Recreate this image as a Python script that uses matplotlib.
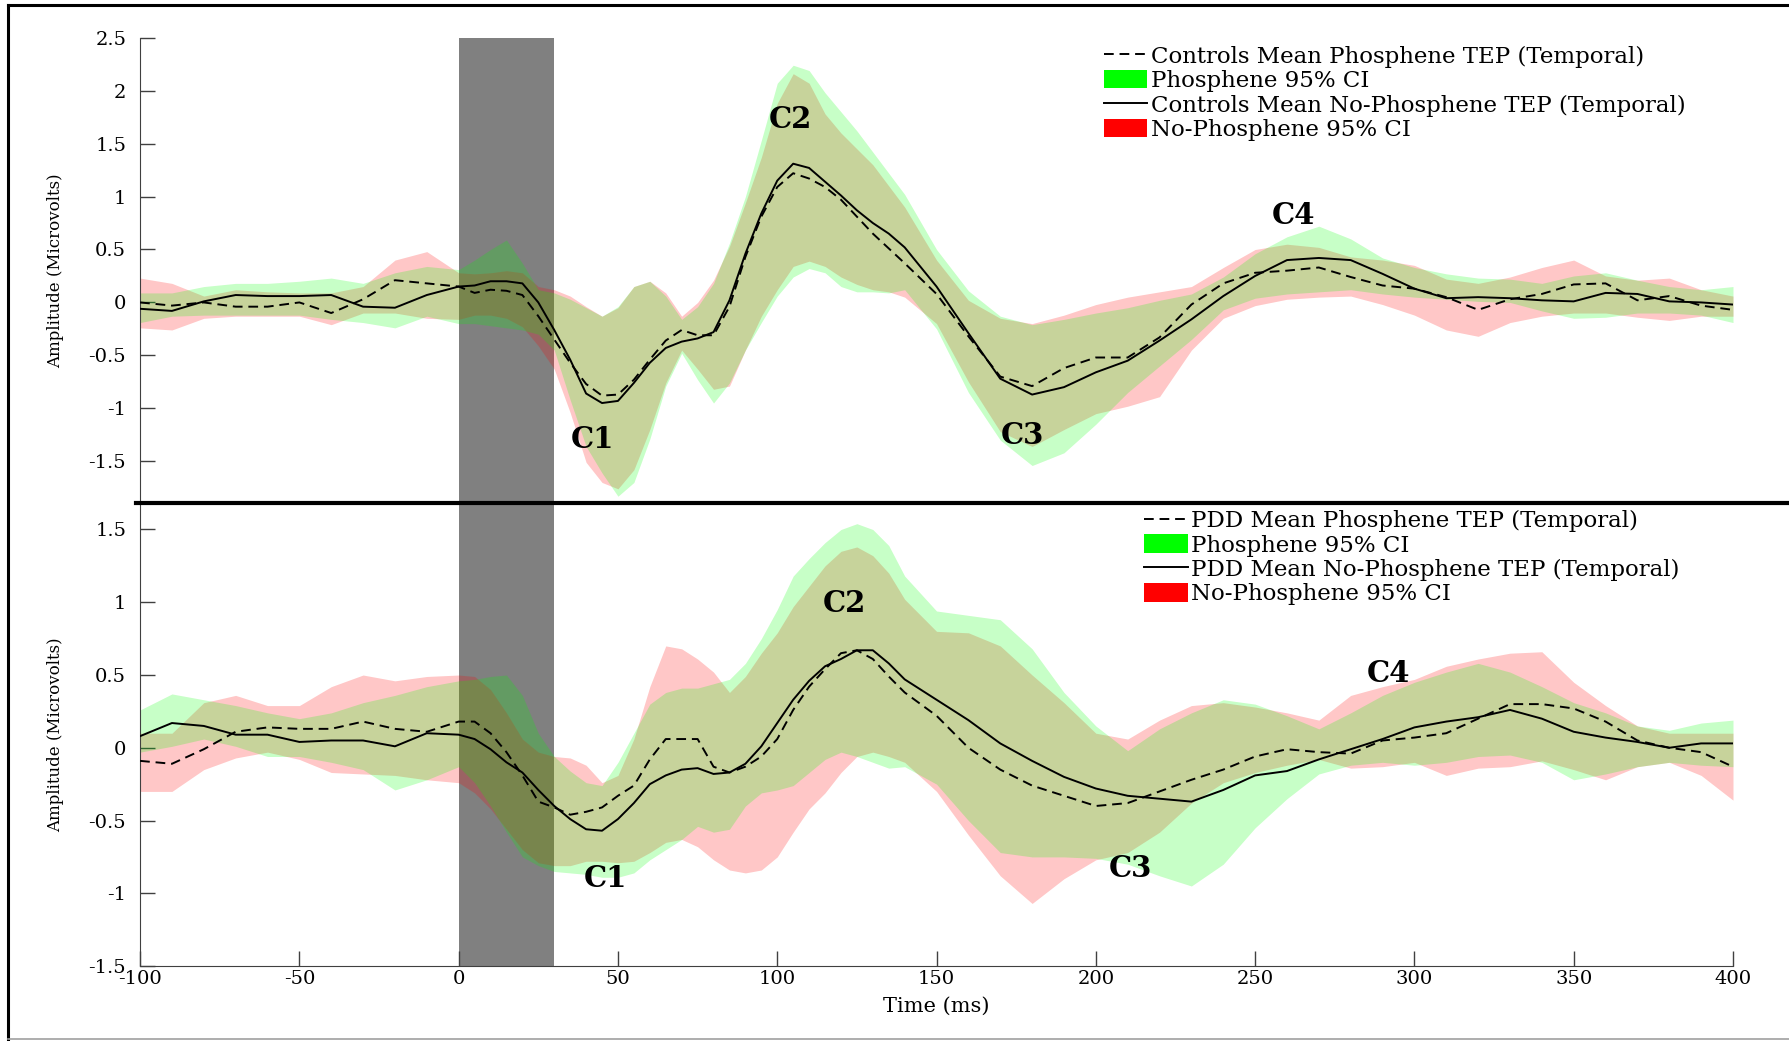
#!/usr/bin/env python3

import matplotlib
matplotlib.use("Agg")
import matplotlib.pyplot as plt
from matplotlib.lines import Line2D
from matplotlib.patches import Patch
from matplotlib.ticker import FuncFormatter

PLOT_WIDTH = 17.89  # inches
PLOT_HEIGHT = 10.41  # inches

plt.rcParams['font.family'] = ['DejaVu Serif']
plt.rcParams['axes.unicode_minus'] = False

# time axis in ms (same grid for both panels)
TIME = [-100, -90, -80, -70, -60, -50, -40, -30, -20, -10,
        0, 5, 10, 15, 20, 25, 30, 35, 40, 45, 50, 55, 60, 65, 70,
        75, 80, 85, 90, 95, 100, 105, 110, 115, 120, 125, 130, 135, 140,
        150, 160, 170, 180, 190, 200, 210, 220, 230, 240, 250, 260, 270,
        280, 290, 300, 310, 320, 330, 340, 350, 360, 370, 380, 390, 400]

# --- Controls (top panel), microvolts ---
CTRL_PHOS_MEAN = [0.0, -0.03, 0.0, -0.04, -0.04, 0.0, -0.1, 0.03, 0.21, 0.18,
                  0.15, 0.09, 0.12, 0.11, 0.07, -0.13, -0.35, -0.57, -0.77, -0.88, -0.87, -0.73, -0.54, -0.36, -0.26,
                  -0.31, -0.31, -0.04, 0.43, 0.81, 1.09, 1.22, 1.17, 1.09, 0.97, 0.81, 0.65, 0.51, 0.37,
                  0.08, -0.32, -0.7, -0.79, -0.62, -0.52, -0.52, -0.33, -0.02, 0.18, 0.28, 0.3, 0.33,
                  0.24, 0.16, 0.13, 0.05, -0.07, 0.03, 0.08, 0.17, 0.18, 0.02, 0.06, -0.03, -0.07]
CTRL_NOPHOS_MEAN = [-0.06, -0.08, 0.01, 0.07, 0.06, 0.06, 0.07, -0.04, -0.05, 0.07,
                    0.15, 0.16, 0.2, 0.2, 0.18, 0.0, -0.26, -0.54, -0.86, -0.95, -0.93, -0.76, -0.57, -0.43, -0.37,
                    -0.34, -0.28, 0.02, 0.46, 0.84, 1.15, 1.31, 1.27, 1.14, 1.01, 0.87, 0.75, 0.65, 0.52,
                    0.15, -0.29, -0.72, -0.87, -0.8, -0.66, -0.55, -0.36, -0.16, 0.06, 0.25, 0.4, 0.42,
                    0.4, 0.27, 0.13, 0.04, 0.05, 0.04, 0.02, 0.01, 0.09, 0.08, 0.01, 0.0, -0.02]
CTRL_PHOS_UPPER = [0.09, 0.09, 0.15, 0.18, 0.18, 0.2, 0.23, 0.18, 0.28, 0.34,
                   0.31, 0.4, 0.5, 0.59, 0.37, 0.12, 0.09, 0.03, -0.05, -0.13, -0.04, 0.15, 0.2, 0.06, -0.16,
                   -0.04, 0.18, 0.56, 1.0, 1.53, 2.07, 2.24, 2.19, 1.98, 1.8, 1.62, 1.42, 1.22, 1.02,
                   0.5, 0.11, -0.13, -0.21, -0.16, -0.1, -0.05, 0.02, 0.08, 0.24, 0.46, 0.62, 0.72,
                   0.6, 0.42, 0.33, 0.27, 0.23, 0.22, 0.18, 0.25, 0.28, 0.21, 0.15, 0.12, 0.15]
CTRL_PHOS_LOWER = [-0.19, -0.13, -0.12, -0.12, -0.12, -0.12, -0.16, -0.19, -0.24, -0.13,
                   -0.2, -0.2, -0.22, -0.24, -0.26, -0.3, -0.45, -0.92, -1.36, -1.61, -1.83, -1.7, -1.29, -0.79, -0.48,
                   -0.73, -0.95, -0.76, -0.45, -0.19, 0.06, 0.24, 0.32, 0.28, 0.15, 0.1, 0.1, 0.09, 0.12,
                   -0.25, -0.85, -1.3, -1.54, -1.42, -1.15, -0.85, -0.6, -0.35, -0.07, 0.04, 0.08, 0.1,
                   0.12, 0.08, 0.05, 0.03, 0.01, 0.0, -0.08, -0.15, -0.14, -0.1, -0.1, -0.12, -0.19]
CTRL_NOPHOS_UPPER = [0.23, 0.18, 0.06, 0.12, 0.1, 0.09, 0.09, 0.15, 0.4, 0.48,
                     0.28, 0.27, 0.28, 0.3, 0.28, 0.15, 0.12, 0.06, -0.04, -0.13, -0.05, 0.15, 0.2, 0.09, -0.13,
                     0.0, 0.21, 0.53, 0.94, 1.37, 1.88, 2.16, 2.07, 1.78, 1.6, 1.45, 1.3, 1.1, 0.9,
                     0.4, 0.02, -0.15, -0.2, -0.12, -0.02, 0.05, 0.1, 0.15, 0.33, 0.5, 0.55, 0.52,
                     0.43, 0.4, 0.35, 0.22, 0.18, 0.24, 0.33, 0.4, 0.25, 0.21, 0.23, 0.12, 0.06]
CTRL_NOPHOS_LOWER = [-0.24, -0.26, -0.15, -0.13, -0.13, -0.13, -0.21, -0.1, -0.1, -0.15,
                     -0.16, -0.12, -0.12, -0.15, -0.23, -0.41, -0.63, -1.04, -1.51, -1.7, -1.76, -1.58, -1.2, -0.76, -0.45,
                     -0.63, -0.82, -0.79, -0.45, -0.13, 0.12, 0.34, 0.39, 0.34, 0.24, 0.17, 0.12, 0.1, 0.05,
                     -0.2, -0.75, -1.22, -1.36, -1.2, -1.05, -0.98, -0.89, -0.45, -0.15, -0.03, 0.03, 0.05,
                     0.06, -0.02, -0.12, -0.26, -0.32, -0.19, -0.13, -0.1, -0.1, -0.14, -0.17, -0.13, -0.13]

# --- PDD (bottom panel), microvolts ---
PDD_PHOS_MEAN = [-0.09, -0.11, -0.01, 0.11, 0.14, 0.13, 0.13, 0.18, 0.13, 0.11,
                 0.18, 0.18, 0.1, -0.03, -0.19, -0.37, -0.41, -0.46, -0.44, -0.41, -0.33, -0.26, -0.08, 0.06, 0.06,
                 0.06, -0.13, -0.17, -0.13, -0.06, 0.06, 0.26, 0.42, 0.54, 0.65, 0.67, 0.61, 0.49, 0.38,
                 0.22, 0.0, -0.15, -0.26, -0.33, -0.4, -0.38, -0.3, -0.22, -0.15, -0.06, -0.01, -0.03,
                 -0.04, 0.05, 0.07, 0.1, 0.2, 0.3, 0.3, 0.27, 0.18, 0.05, 0.0, -0.03, -0.13]
PDD_NOPHOS_MEAN = [0.08, 0.17, 0.15, 0.09, 0.09, 0.04, 0.05, 0.05, 0.01, 0.1,
                   0.09, 0.06, -0.01, -0.1, -0.17, -0.29, -0.4, -0.49, -0.56, -0.57, -0.49, -0.38, -0.25, -0.19, -0.15,
                   -0.14, -0.18, -0.17, -0.11, 0.01, 0.17, 0.33, 0.46, 0.56, 0.61, 0.67, 0.67, 0.58, 0.47,
                   0.33, 0.19, 0.03, -0.09, -0.2, -0.28, -0.33, -0.35, -0.37, -0.29, -0.19, -0.16, -0.08,
                   -0.01, 0.06, 0.14, 0.18, 0.21, 0.26, 0.2, 0.11, 0.07, 0.04, 0.0, 0.03, 0.03]
PDD_PHOS_UPPER = [0.26, 0.37, 0.33, 0.29, 0.24, 0.2, 0.24, 0.31, 0.36, 0.42,
                  0.46, 0.47, 0.49, 0.5, 0.36, 0.1, -0.06, -0.16, -0.24, -0.26, -0.1, 0.1, 0.3, 0.38, 0.41,
                  0.41, 0.44, 0.47, 0.58, 0.75, 0.95, 1.18, 1.3, 1.41, 1.5, 1.54, 1.5, 1.39, 1.18,
                  0.94, 0.91, 0.88, 0.68, 0.38, 0.15, -0.02, 0.13, 0.24, 0.33, 0.3, 0.22, 0.13,
                  0.24, 0.36, 0.45, 0.52, 0.58, 0.52, 0.42, 0.31, 0.24, 0.15, 0.12, 0.17, 0.19]
PDD_PHOS_LOWER = [-0.03, 0.01, 0.06, 0.01, -0.06, -0.06, -0.1, -0.15, -0.29, -0.22,
                  -0.13, -0.24, -0.4, -0.58, -0.75, -0.81, -0.85, -0.86, -0.87, -0.89, -0.89, -0.86, -0.77, -0.7, -0.63,
                  -0.54, -0.58, -0.56, -0.4, -0.31, -0.29, -0.26, -0.17, -0.08, -0.03, -0.06, -0.1, -0.14, -0.13,
                  -0.25, -0.5, -0.72, -0.75, -0.75, -0.76, -0.8, -0.88, -0.95, -0.8, -0.55, -0.35, -0.18,
                  -0.12, -0.1, -0.12, -0.1, -0.06, -0.05, -0.1, -0.22, -0.18, -0.13, -0.1, -0.12, -0.13]
PDD_NOPHOS_UPPER = [0.1, 0.1, 0.31, 0.36, 0.29, 0.29, 0.42, 0.5, 0.46, 0.49,
                    0.5, 0.49, 0.4, 0.24, 0.06, -0.03, -0.06, -0.07, -0.12, -0.24, -0.19, 0.06, 0.42, 0.7, 0.68,
                    0.61, 0.52, 0.38, 0.49, 0.65, 0.79, 0.97, 1.11, 1.25, 1.35, 1.38, 1.32, 1.2, 1.02,
                    0.8, 0.79, 0.7, 0.5, 0.31, 0.1, 0.06, 0.19, 0.29, 0.31, 0.28, 0.24, 0.19,
                    0.36, 0.42, 0.47, 0.56, 0.61, 0.65, 0.66, 0.45, 0.29, 0.15, 0.1, 0.1, 0.1]
PDD_NOPHOS_LOWER = [-0.3, -0.3, -0.15, -0.07, -0.03, -0.08, -0.17, -0.18, -0.19, -0.22,
                    -0.24, -0.31, -0.42, -0.56, -0.7, -0.79, -0.81, -0.81, -0.78, -0.78, -0.79, -0.78, -0.72, -0.65, -0.63,
                    -0.68, -0.77, -0.84, -0.86, -0.84, -0.75, -0.58, -0.42, -0.31, -0.17, -0.06, -0.03, -0.06, -0.1,
                    -0.3, -0.6, -0.88, -1.07, -0.9, -0.77, -0.72, -0.58, -0.38, -0.24, -0.17, -0.12, -0.08,
                    -0.14, -0.13, -0.1, -0.19, -0.14, -0.13, -0.09, -0.15, -0.22, -0.13, -0.1, -0.19, -0.36]

# component labels: (name, time, amplitude)
CTRL_PEAKS = [("C1", 42, -1.29), ("C2", 104, 1.73), ("C3", 177, -1.26), ("C4", 262, 0.82)]
PDD_PEAKS = [("C1", 46, -0.9), ("C2", 121, 0.99), ("C3", 211, -0.83), ("C4", 292, 0.51)]

X_TICKS = [-100, -50, 0, 50, 100, 150, 200, 250, 300, 350, 400]
CTRL_Y_TICKS = [-1.5, -1, -0.5, 0, 0.5, 1, 1.5, 2, 2.5]
PDD_Y_TICKS = [-1.5, -1, -0.5, 0, 0.5, 1, 1.5]

PULSE = (0, 30)  # shaded TMS artifact window, ms

AXIS_GRAY = '#404040'
DASHES = (5, 3)


def draw_panel(ax, phos_mean, nophos_mean, phos_lo, phos_hi, nophos_lo, nophos_hi, peaks):
    ax.axvspan(PULSE[0], PULSE[1], color='#808080', lw=0, zorder=0)
    ax.fill_between(TIME, nophos_lo, nophos_hi, color=(1, 0, 0), alpha=0.22, lw=0, zorder=1)
    ax.fill_between(TIME, phos_lo, phos_hi, color=(0, 1, 0), alpha=0.22, lw=0, zorder=2)
    ax.plot(TIME, phos_mean, color='black', lw=1.4, dashes=DASHES, zorder=3)
    ax.plot(TIME, nophos_mean, color='black', lw=1.4, zorder=4)
    for name, t, v in peaks:
        ax.text(t, v, name, fontsize=21, fontweight='bold', ha='center', va='center', zorder=5)

    ax.set_xlim(-100, 400)
    for side in ('top', 'right'):
        ax.spines[side].set_visible(False)
    ax.spines['left'].set_color(AXIS_GRAY)
    ax.spines['bottom'].set_color(AXIS_GRAY)
    ax.tick_params(direction='in', length=11, width=1, color=AXIS_GRAY, labelsize=14)
    ax.tick_params(axis='y', pad=10)
    ax.yaxis.set_major_formatter(FuncFormatter(lambda v, p: '%g' % v))
    ax.set_ylabel('Amplitude (Microvolts)', fontsize=12)
    ax.yaxis.set_label_coords(-0.048, 0.5)


def legend_for(fig, group, x, y):
    handles = [Line2D([], [], color='black', lw=1.4, dashes=DASHES),
               Patch(facecolor='#00ff00', edgecolor='none'),
               Line2D([], [], color='black', lw=1.4),
               Patch(facecolor='#ff0000', edgecolor='none')]
    labels = [group + ' Mean Phosphene TEP (Temporal)', 'Phosphene 95% CI',
              group + ' Mean No-Phosphene TEP (Temporal)', 'No-Phosphene 95% CI']
    fig.legend(handles, labels, loc='upper left', bbox_to_anchor=(x, y),
               bbox_transform=fig.transFigure, frameon=False, fontsize=16.5,
               borderpad=0, borderaxespad=0, handlelength=1.9, handleheight=0.85,
               handletextpad=0.15, labelspacing=0.1)


fig = plt.figure(figsize=(PLOT_WIDTH, PLOT_HEIGHT), dpi=100)

ax_top = fig.add_axes([0.0783, 0.5168, 0.8904, 0.4470])
draw_panel(ax_top, CTRL_PHOS_MEAN, CTRL_NOPHOS_MEAN, CTRL_PHOS_LOWER, CTRL_PHOS_UPPER,
           CTRL_NOPHOS_LOWER, CTRL_NOPHOS_UPPER, CTRL_PEAKS)
ax_top.set_ylim(-1.894, 2.5)
ax_top.set_yticks(CTRL_Y_TICKS)
ax_top.spines['bottom'].set_visible(False)
ax_top.set_xticks([])

ax_bot = fig.add_axes([0.0783, 0.0720, 0.8904, 0.4448])
draw_panel(ax_bot, PDD_PHOS_MEAN, PDD_NOPHOS_MEAN, PDD_PHOS_LOWER, PDD_PHOS_UPPER,
           PDD_NOPHOS_LOWER, PDD_NOPHOS_UPPER, PDD_PEAKS)
ax_bot.set_ylim(-1.5, 1.682)
ax_bot.set_yticks(PDD_Y_TICKS)
ax_bot.set_xticks(X_TICKS)
ax_bot.tick_params(axis='x', pad=3)
ax_bot.set_xlabel('Time (ms)', fontsize=15, labelpad=6)

legend_for(fig, 'Controls', 0.617, 0.956)
legend_for(fig, 'PDD', 0.6395, 0.510)

# thick separator between the panels and the outer frame
fig.add_artist(Line2D([0.076, 1.0], [0.5168, 0.5168], color='black', lw=3, transform=fig.transFigure))
fig.add_artist(Line2D([0.0045, 0.0045], [0.002, 0.9952], color='black', lw=2.2, transform=fig.transFigure))
fig.add_artist(Line2D([0.0045, 1.0], [0.9952, 0.9952], color='black', lw=2.2, transform=fig.transFigure))
fig.add_artist(Line2D([0.0045, 1.0], [0.002, 0.002], color='#a0a0a0', lw=1.2, transform=fig.transFigure))

fig.savefig('out.png', dpi=100)
